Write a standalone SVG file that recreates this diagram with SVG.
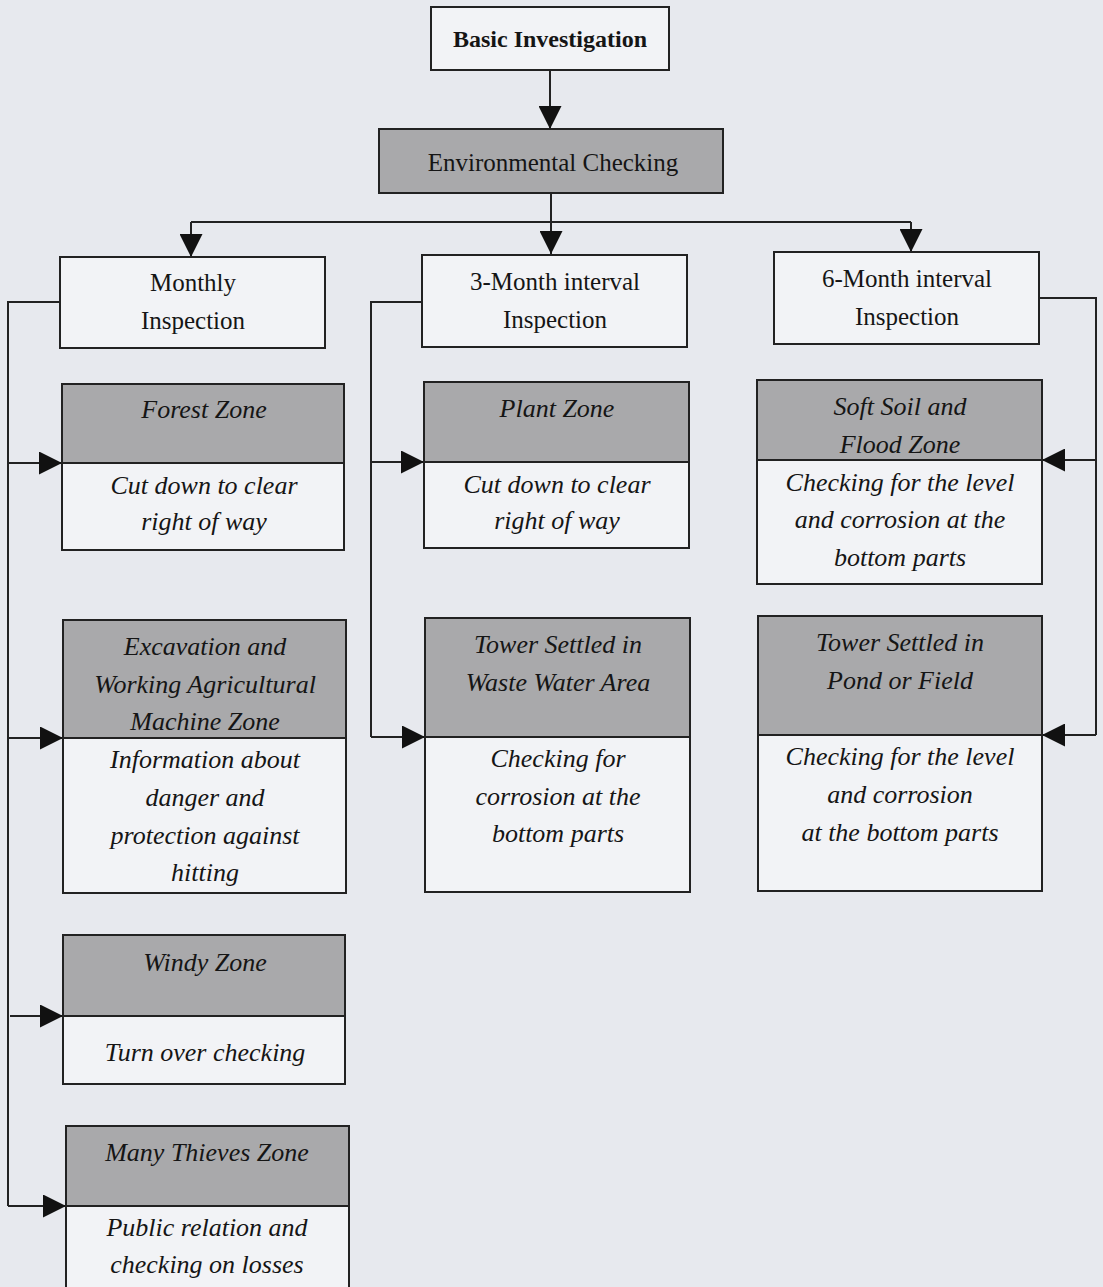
<svg xmlns="http://www.w3.org/2000/svg" width="1103" height="1287" viewBox="0 0 1103 1287">
<style>
.bg{fill:#e7e9ee}
.box{fill:#f2f3f6;stroke:#222;stroke-width:2}
.hdr{fill:#a9a9ab;stroke:#222;stroke-width:2}
.t{font-family:"Liberation Serif","Times New Roman",serif;font-size:25px;fill:#151515;text-anchor:middle}
.b{font-weight:bold;font-size:24px}
.i{font-style:italic;font-size:26px}
.ln{fill:none;stroke:#222;stroke-width:2}
</style>
<defs>
<marker id="ah" viewBox="0 0 24 24" refX="24" refY="12" markerWidth="24" markerHeight="23" markerUnits="userSpaceOnUse" orient="auto">
<path d="M0,0 L24,12 L0,24 z" fill="#111"/>
</marker>
</defs>
<rect class="bg" x="0" y="0" width="1103" height="1287"/>

<g id="connectors">
<path class="ln" d="M550,70 V129" marker-end="url(#ah)"/>
<path class="ln" d="M551,193 V254"  marker-end="url(#ah)"/>
<path class="ln" d="M191,222 H911"/>
<path class="ln" d="M191,222 V257" marker-end="url(#ah)"/>
<path class="ln" d="M911,222 V252" marker-end="url(#ah)"/>
<!-- monthly -->
<path class="ln" d="M60,302 H8 V1206"/>
<path class="ln" d="M8,463 H62" marker-end="url(#ah)"/>
<path class="ln" d="M9,738 H63" marker-end="url(#ah)"/>
<path class="ln" d="M10,1016 H63" marker-end="url(#ah)"/>
<path class="ln" d="M8,1206 H66" marker-end="url(#ah)"/>
<!-- 3-month -->
<path class="ln" d="M422,302 H371 V737"/>
<path class="ln" d="M371,462 H424" marker-end="url(#ah)"/>
<path class="ln" d="M371,737 H425" marker-end="url(#ah)"/>
<!-- 6-month -->
<path class="ln" d="M1039,298 H1096 V735"/>
<path class="ln" d="M1096,460 H1042" marker-end="url(#ah)"/>
<path class="ln" d="M1096,735 H1042" marker-end="url(#ah)"/>
</g>

<g id="basic">
<rect class="box" x="431" y="7" width="238" height="63"/>
<text class="t b" x="550" y="47">Basic Investigation</text>
</g>
<g id="env">
<rect class="hdr" x="379" y="129" width="344" height="64"/>
<text class="t" x="553" y="171">Environmental Checking</text>
</g>
<g id="monthly">
<rect class="box" x="60" y="257" width="265" height="91"/>
<text class="t" x="193" y="291">Monthly</text>
<text class="t" x="193" y="329">Inspection</text>
</g>
<g id="three-month">
<rect class="box" x="422" y="255" width="265" height="92"/>
<text class="t" x="555" y="290">3-Month interval</text>
<text class="t" x="555" y="328">Inspection</text>
</g>
<g id="six-month">
<rect class="box" x="774" y="252" width="265" height="92"/>
<text class="t" x="907" y="287">6-Month interval</text>
<text class="t" x="907" y="325">Inspection</text>
</g>

<g id="forest">
<rect class="box" x="62" y="384" width="282" height="166"/>
<rect class="hdr" x="62" y="384" width="282" height="79"/>
<text class="t i" x="204" y="418">Forest Zone</text>
<text class="t i" x="204" y="494">Cut down to clear</text>
<text class="t i" x="204" y="530">right of way</text>
</g>
<g id="plant">
<rect class="box" x="424" y="382" width="265" height="166"/>
<rect class="hdr" x="424" y="382" width="265" height="80"/>
<text class="t i" x="557" y="417">Plant Zone</text>
<text class="t i" x="557" y="493">Cut down to clear</text>
<text class="t i" x="557" y="529">right of way</text>
</g>
<g id="softsoil">
<rect class="box" x="757" y="380" width="285" height="204"/>
<rect class="hdr" x="757" y="380" width="285" height="80"/>
<text class="t i" x="900" y="415">Soft Soil and</text>
<text class="t i" x="900" y="453">Flood Zone</text>
<text class="t i" x="900" y="491">Checking for the level</text>
<text class="t i" x="900" y="528">and corrosion at the</text>
<text class="t i" x="900" y="566">bottom parts</text>
</g>
<g id="excavation">
<rect class="box" x="63" y="620" width="283" height="273"/>
<rect class="hdr" x="63" y="620" width="283" height="118"/>
<text class="t i" x="205" y="655">Excavation and</text>
<text class="t i" x="205" y="693">Working Agricultural</text>
<text class="t i" x="205" y="730">Machine Zone</text>
<text class="t i" x="205" y="768">Information about</text>
<text class="t i" x="205" y="806">danger and</text>
<text class="t i" x="205" y="844">protection against</text>
<text class="t i" x="205" y="881">hitting</text>
</g>
<g id="wastewater">
<rect class="box" x="425" y="618" width="265" height="274"/>
<rect class="hdr" x="425" y="618" width="265" height="119"/>
<text class="t i" x="558" y="653">Tower Settled in</text>
<text class="t i" x="558" y="691">Waste Water Area</text>
<text class="t i" x="558" y="767">Checking for</text>
<text class="t i" x="558" y="805">corrosion at the</text>
<text class="t i" x="558" y="842">bottom parts</text>
</g>
<g id="pond">
<rect class="box" x="758" y="616" width="284" height="275"/>
<rect class="hdr" x="758" y="616" width="284" height="119"/>
<text class="t i" x="900" y="651">Tower Settled in</text>
<text class="t i" x="900" y="689">Pond or Field</text>
<text class="t i" x="900" y="765">Checking for the level</text>
<text class="t i" x="900" y="803">and corrosion</text>
<text class="t i" x="900" y="841">at the bottom parts</text>
</g>
<g id="windy">
<rect class="box" x="63" y="935" width="282" height="149"/>
<rect class="hdr" x="63" y="935" width="282" height="81"/>
<text class="t i" x="205" y="971">Windy Zone</text>
<text class="t i" x="205" y="1061">Turn over checking</text>
</g>
<g id="thieves">
<rect class="box" x="66" y="1126" width="283" height="170"/>
<rect class="hdr" x="66" y="1126" width="283" height="80"/>
<text class="t i" x="207" y="1161">Many Thieves Zone</text>
<text class="t i" x="207" y="1236">Public relation and</text>
<text class="t i" x="207" y="1273">checking on losses</text>
</g>
</svg>
